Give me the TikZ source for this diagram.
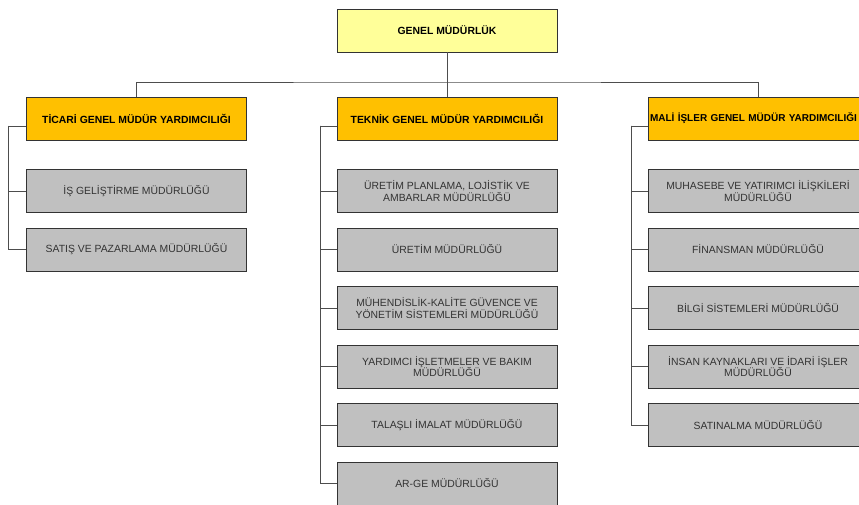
\documentclass[tikz,border=0pt]{standalone}
\usepackage{fontspec}
\setmainfont{Liberation Sans}
\usepackage{tikz}

\definecolor{gmyellow}{HTML}{FFFF99}
\definecolor{gyorange}{HTML}{FFC000}
\definecolor{unitgray}{HTML}{C0C0C0}
\definecolor{linegray}{HTML}{4D4D4D}

\begin{document}
\begin{tikzpicture}[x=1pt,y=-1pt,
  box/.style={draw=black!80,line width=0.8pt,minimum width=220pt,minimum height=43pt,
    inner sep=0pt,align=center,font=\fontsize{10.4}{11.8}\selectfont},
  topbox/.style={box,fill=gmyellow,font=\fontsize{10.4}{11.8}\selectfont\bfseries},
  headbox/.style={box,fill=gyorange,font=\fontsize{10.4}{11.8}\selectfont\bfseries},
  unitbox/.style={box,fill=unitgray,text=black!80},
  conn/.style={draw=linegray,line width=0.8pt}]
  \clip (0,0) rectangle (859,505);

  %% top
  \node[topbox] (gm) at (447,30.5) {GENEL MÜDÜRLÜK};

  %% deputies
  \node[headbox] (ticari) at (136.5,118.5) {TİCARİ GENEL MÜDÜR YARDIMCILIĞI};
  \node[headbox] (teknik) at (447,118.5) {TEKNİK GENEL MÜDÜR YARDIMCILIĞI};
  \node[headbox,text width=216pt,inner xsep=2pt,align=left,
    font=\fontsize{10}{11.8}\selectfont\bfseries] (mali) at (758,118.5) {MALİ İŞLER GENEL MÜDÜR YARDIMCILIĞI};

  \coordinate (bus) at (447,82);
  \draw[conn] (gm.south) -- (teknik.north);
  \draw[conn] (ticari.north) |- (bus) -| (mali.north);

  %% ticari units
  \node[unitbox] (isgel) at (136.5,191) {İŞ GELİŞTİRME MÜDÜRLÜĞÜ};
  \node[unitbox] (satis) at (136.5,249.5) {SATIŞ VE PAZARLAMA MÜDÜRLÜĞÜ};

  %% teknik units
  \node[unitbox] (uplan) at (447,191) {ÜRETİM PLANLAMA, LOJİSTİK VE\\AMBARLAR MÜDÜRLÜĞÜ};
  \node[unitbox] (uretim) at (447,249.5) {ÜRETİM MÜDÜRLÜĞÜ};
  \node[unitbox] (muhkal) at (447,308) {MÜHENDİSLİK-KALİTE GÜVENCE VE\\YÖNETİM SİSTEMLERİ MÜDÜRLÜĞÜ};
  \node[unitbox] (yardis) at (447,366.5) {YARDIMCI İŞLETMELER VE BAKIM\\MÜDÜRLÜĞÜ};
  \node[unitbox] (talasli) at (447,425) {TALAŞLI İMALAT MÜDÜRLÜĞÜ};
  \node[unitbox] (arge) at (447,483.5) {AR-GE MÜDÜRLÜĞÜ};

  %% mali units
  \node[unitbox] (muhyat) at (758,191) {MUHASEBE VE YATIRIMCI İLİŞKİLERİ\\MÜDÜRLÜĞÜ};
  \node[unitbox] (finans) at (758,249.5) {FİNANSMAN MÜDÜRLÜĞÜ};
  \node[unitbox] (bilgi) at (758,308) {BİLGİ SİSTEMLERİ MÜDÜRLÜĞÜ};
  \node[unitbox] (insan) at (758,366.5) {İNSAN KAYNAKLARI VE İDARİ İŞLER\\MÜDÜRLÜĞÜ};
  \node[unitbox] (satin) at (758,425) {SATINALMA MÜDÜRLÜĞÜ};

  %% spines
  \coordinate (tcsp) at (8,126);
  \coordinate (tksp) at (320,126);
  \coordinate (mlsp) at (631,126);
  \draw[conn] (tcsp) -- ([yshift=-7.5pt]ticari.west);
  \draw[conn] (tksp) -- ([yshift=-7.5pt]teknik.west);
  \draw[conn] (mlsp) -- ([yshift=-7.5pt]mali.west);
  \foreach \u in {isgel,satis} \draw[conn] (tcsp) |- (\u.west);
  \foreach \u in {uplan,uretim,muhkal,yardis,talasli,arge} \draw[conn] (tksp) |- (\u.west);
  \foreach \u in {muhyat,finans,bilgi,insan,satin} \draw[conn] (mlsp) |- (\u.west);
\end{tikzpicture}
\end{document}
